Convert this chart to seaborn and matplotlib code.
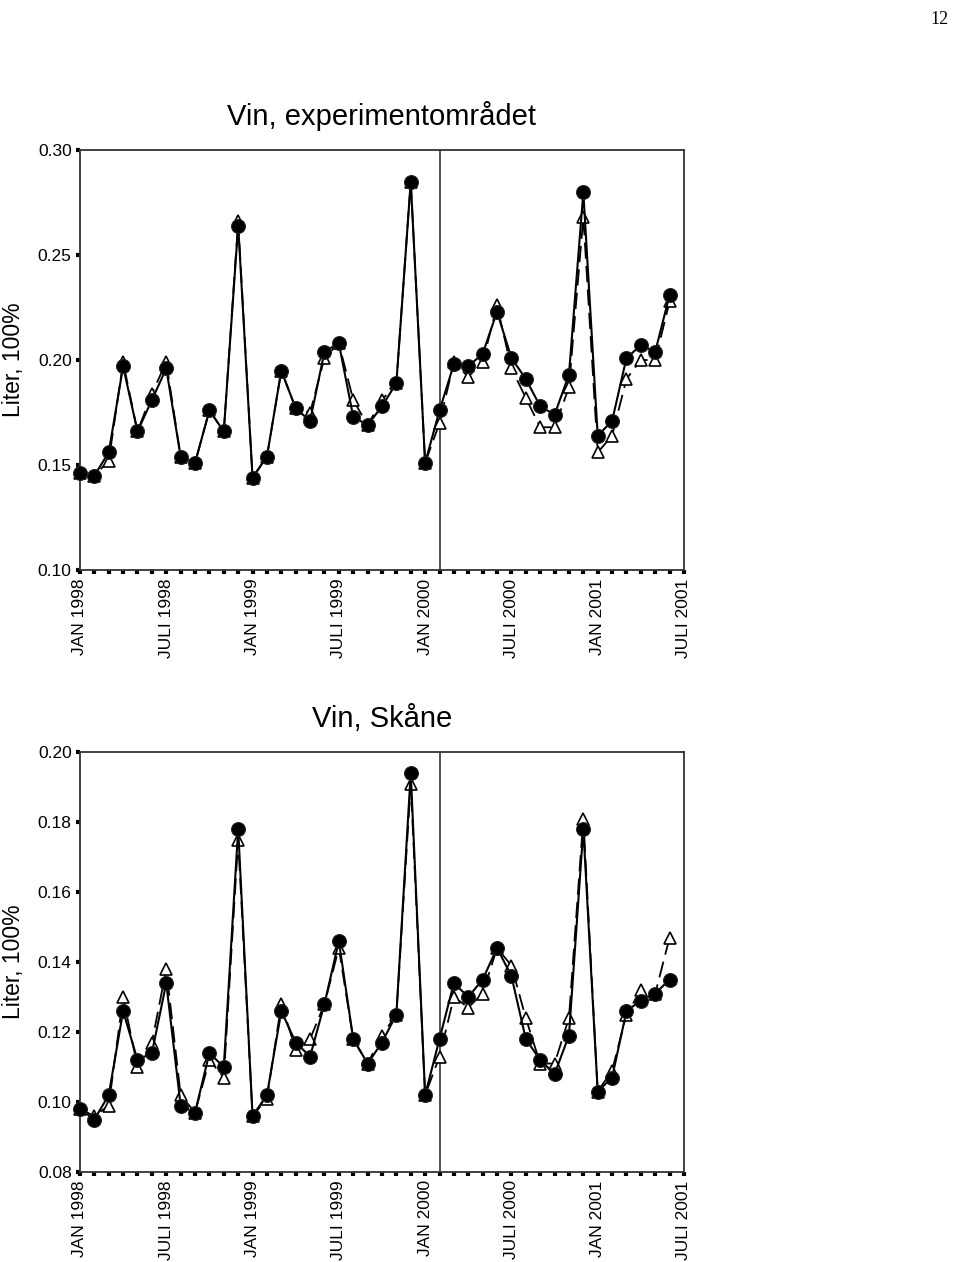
import numpy as np
import pandas as pd
import matplotlib
matplotlib.use("Agg")
import matplotlib.pyplot as plt
import seaborn as sns

# månader jan 1998 - jun 2001 (index 0..41)
manad = list(range(42))
tick_pos = [0, 6, 12, 18, 24, 30, 36, 42]
tick_lbl = ["JAN 1998", "JULI 1998", "JAN 1999", "JULI 1999",
            "JAN 2000", "JULI 2000", "JAN 2001", "JULI 2001"]
start_index = 25  # vertikal linje

# Vin, experimentområdet
exp_fylld = [0.146, 0.145, 0.156, 0.197, 0.166, 0.181, 0.196, 0.154, 0.151, 0.176,
             0.166, 0.264, 0.144, 0.154, 0.195, 0.177, 0.171, 0.204, 0.208, 0.173,
             0.169, 0.178, 0.189, 0.285, 0.151, 0.176, 0.198, 0.197, 0.203, 0.223,
             0.201, 0.191, 0.178, 0.174, 0.193, 0.280, 0.164, 0.171, 0.201, 0.207,
             0.204, 0.231]
exp_oppen = [0.146, 0.145, 0.152, 0.199, 0.166, 0.184, 0.199, 0.154, 0.151, 0.176,
             0.166, 0.266, 0.144, 0.154, 0.195, 0.177, 0.175, 0.201, 0.208, 0.181,
             0.169, 0.181, 0.189, 0.285, 0.151, 0.170, 0.199, 0.192, 0.199, 0.226,
             0.196, 0.182, 0.168, 0.168, 0.187, 0.268, 0.156, 0.164, 0.191, 0.200,
             0.200, 0.228]

# Vin, Skåne
sk_fylld = [0.098, 0.095, 0.102, 0.126, 0.112, 0.114, 0.134, 0.099, 0.097, 0.114,
            0.110, 0.178, 0.096, 0.102, 0.126, 0.117, 0.113, 0.128, 0.146, 0.118,
            0.111, 0.117, 0.125, 0.194, 0.102, 0.118, 0.134, 0.130, 0.135, 0.144,
            0.136, 0.118, 0.112, 0.108, 0.119, 0.178, 0.103, 0.107, 0.126, 0.129,
            0.131, 0.135]
sk_oppen = [0.098, 0.096, 0.099, 0.130, 0.110, 0.117, 0.138, 0.102, 0.097, 0.112,
            0.107, 0.175, 0.096, 0.101, 0.128, 0.115, 0.118, 0.128, 0.144, 0.118,
            0.111, 0.119, 0.125, 0.191, 0.102, 0.113, 0.130, 0.127, 0.131, 0.144,
            0.139, 0.124, 0.111, 0.111, 0.124, 0.181, 0.103, 0.109, 0.125, 0.132,
            0.131, 0.147]

sns.set_style("ticks")
plt.rcParams['font.family'] = ['Liberation Sans', 'DejaVu Sans']
plt.rcParams['text.color'] = 'black'
plt.rcParams['xtick.color'] = 'black'
plt.rcParams['ytick.color'] = 'black'
plt.rcParams['axes.labelcolor'] = 'black'

fig = plt.figure(figsize=(9.6, 12.62), dpi=100)
ax1 = fig.add_axes([0.0833, 0.5483, 0.6292, 0.3328])
ax2 = fig.add_axes([0.0833, 0.0713, 0.6292, 0.3328])


def rita(ax, fylld, oppen, ylim, yticks, titel):
    df = pd.DataFrame({'manad': manad, 'fylld': fylld, 'oppen': oppen})
    sns.lineplot(data=df, x='manad', y='oppen', ax=ax, color='black', lw=1.3,
                 linestyle=(0, (9, 4)), marker='^', markersize=8.5,
                 markerfacecolor='white', markeredgecolor='black',
                 markeredgewidth=1.2, clip_on=False, zorder=3)
    sns.lineplot(data=df, x='manad', y='fylld', ax=ax, color='black', lw=1.5,
                 marker='o', markersize=10, markerfacecolor='black',
                 markeredgecolor='#222222', clip_on=False, zorder=4)
    ax.axvline(start_index, color='#333333', lw=1.2, zorder=1)
    ax.set_xlim(0, 42)
    ax.set_ylim(*ylim)
    ax.set_yticks(yticks)
    ax.set_yticklabels([f"{v:.2f}" for v in yticks])
    ax.set_xticks(tick_pos)
    ax.set_xticklabels(tick_lbl, rotation=90)
    ax.set_xticks(range(43), minor=True)
    ax.tick_params(axis='x', which='both', direction='out', length=3,
                   width=3, color='black', labelsize=12.5, pad=3)
    ax.tick_params(axis='y', direction='out', length=3, width=3,
                   color='black', labelsize=12.5, pad=3)
    for s in ax.spines.values():
        s.set_visible(True)
        s.set_linewidth(1.3)
        s.set_color('#333333')
    ax.set_xlabel('')
    ax.set_ylabel('Liter, 100%', fontsize=16.5, labelpad=9)
    ax.set_title(titel, fontsize=21, pad=18)


rita(ax1, exp_fylld, exp_oppen, (0.10, 0.30),
     [0.10, 0.15, 0.20, 0.25, 0.30], 'Vin, experimentområdet')
rita(ax2, sk_fylld, sk_oppen, (0.08, 0.20),
     [0.08, 0.10, 0.12, 0.14, 0.16, 0.18, 0.20], 'Vin, Skåne')

fig.text(0.979, 0.991, '12', ha='center', va='top', fontsize=13,
         family=['Liberation Serif', 'DejaVu Serif'])

fig.savefig('out.png', dpi=100)
